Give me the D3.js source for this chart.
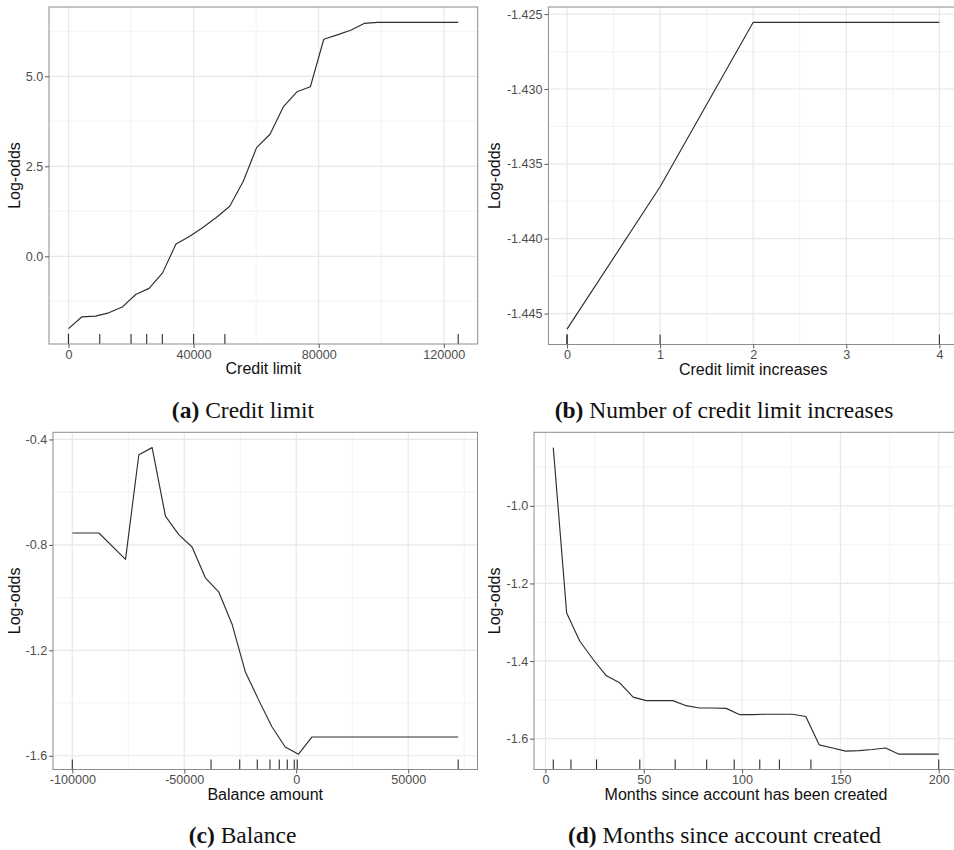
<!DOCTYPE html>
<html>
<head>
<meta charset="utf-8">
<script src="https://cdn.jsdelivr.net/npm/d3@7"></script>
<style>
  html, body { margin: 0; padding: 0; background: #fff; }
  svg { display: block; }
</style>
</head>
<body>
<svg id="fig" width="954" height="850"></svg>
<script>
// ---- (a) Credit limit: partial dependence on log-odds ----
const creditLimitX = [0, 4300, 8590, 12890, 17180, 21480, 25780, 30070, 34370, 38660, 42960, 47260, 51550,
  55850, 60140, 64440, 68740, 73030, 77330, 81620, 85920, 90220, 94510, 98810, 124600];
const creditLimitY = [-2.01, -1.68, -1.66, -1.57, -1.41, -1.06, -0.89, -0.46, 0.34, 0.55, 0.80, 1.08, 1.39,
  2.08, 3.02, 3.39, 4.16, 4.57, 4.71, 6.03, 6.15, 6.28, 6.47, 6.50, 6.50];
const creditLimitRug = [0, 0, 10000, 20000, 25000, 30000, 40000, 50000, 124600];
const creditLimitXTicks = [0, 40000, 80000, 120000];
const creditLimitXMinor = [20000, 60000, 100000];
const creditLimitYTicks = [0, 2.5, 5.0];
const creditLimitYMinor = [-1.25, 1.25, 3.75, 6.25];

// ---- (b) Number of credit limit increases ----
const increasesX = [0, 1, 2, 3, 4];
const increasesY = [-1.44604, -1.43653, -1.42555, -1.42555, -1.42555];
const increasesRug = [0, 0, 1, 4];
const increasesXTicks = [0, 1, 2, 3, 4];
const increasesXMinor = [0.5, 1.5, 2.5, 3.5];
const increasesYTicks = [-1.445, -1.440, -1.435, -1.430, -1.425];
const increasesYMinor = [-1.4425, -1.4375, -1.4325, -1.4275];

// ---- (c) Balance ----
const balanceX = [-100000, -88116, -76232, -70290, -64348, -58406, -52464, -46522, -40580, -34638,
  -28696, -22754, -16812, -10870, -4928, 1014, 6956, 72318];
const balanceY = [-0.755, -0.755, -0.855, -0.458, -0.431, -0.691, -0.761, -0.808, -0.925, -0.978,
  -1.100, -1.281, -1.388, -1.490, -1.567, -1.594, -1.529, -1.529];
const balanceRug = [-100000, -38050, -25250, -17400, -11730, -7580, -4010, -890, 450, 72318];
const balanceXTicks = [-100000, -50000, 0, 50000];
const balanceXMinor = [-75000, -25000, 25000, 75000];
const balanceYTicks = [-1.6, -1.2, -0.8, -0.4];
const balanceYMinor = [-1.4, -1.0, -0.6];

// ---- (d) Months since account created ----
const monthsX = [4, 10.8, 17.5, 24.3, 31.0, 37.8, 44.6, 51.3, 58.1, 64.8, 71.6, 78.4, 85.1, 91.9, 98.6,
  105.4, 112.2, 118.9, 125.7, 132.4, 139.2, 146.0, 152.7, 159.5, 166.2, 173.0, 179.8, 186.5, 193.3, 200];
const monthsY = [-0.850, -1.276, -1.349, -1.396, -1.438, -1.456, -1.493, -1.502, -1.502, -1.502, -1.515,
  -1.521, -1.521, -1.522, -1.538, -1.538, -1.537, -1.537, -1.537, -1.543, -1.616, -1.624, -1.632, -1.631,
  -1.628, -1.624, -1.640, -1.640, -1.640, -1.640];
const monthsRug = [4, 13, 26, 48, 66, 82, 96, 109, 119, 135, 200];
const monthsXTicks = [0, 50, 100, 150, 200];
const monthsXMinor = [25, 75, 125, 175];
const monthsYTicks = [-1.6, -1.4, -1.2, -1.0];
const monthsYMinor = [-1.5, -1.3, -1.1, -0.9];

// ---- axis titles and sub-captions ----
const xTitles = ["Credit limit", "Credit limit increases", "Balance amount", "Months since account has been created"];
const yTitle = "Log-odds";
const captionTags = ["(a)", "(b)", "(c)", "(d)"];
const captionTexts = ["Credit limit", "Number of credit limit increases", "Balance", "Months since account created"];

// plain hyphen minus, as in the printed axes
const loc = d3.formatLocale({decimal: ".", thousands: "", grouping: [3], currency: ["", ""], minus: "-"});

const panels = [
  {x: creditLimitX, y: creditLimitY, rug: creditLimitRug,
   xt: creditLimitXTicks, xm: creditLimitXMinor, yt: creditLimitYTicks, ym: creditLimitYMinor,
   xf: loc.format("d"), yf: loc.format(".1f"),
   box: {l: 49, t: 7, r: 477.7, b: 344}, yTitleX: 19.5, cap: {x: 243, y: 418}},
  {x: increasesX, y: increasesY, rug: increasesRug,
   xt: increasesXTicks, xm: increasesXMinor, yt: increasesYTicks, ym: increasesYMinor,
   xf: loc.format("d"), yf: loc.format(".3f"),
   box: {l: 548.4, t: 7, r: 958, b: 344.5}, yTitleX: 500, cap: {x: 724, y: 418}},
  {x: balanceX, y: balanceY, rug: balanceRug,
   xt: balanceXTicks, xm: balanceXMinor, yt: balanceYTicks, ym: balanceYMinor,
   xf: loc.format("d"), yf: loc.format(".1f"),
   box: {l: 53, t: 432.3, r: 477.5, b: 769.5}, yTitleX: 19.5, cap: {x: 242.5, y: 842.5}},
  {x: monthsX, y: monthsY, rug: monthsRug,
   xt: monthsXTicks, xm: monthsXMinor, yt: monthsYTicks, ym: monthsYMinor,
   xf: loc.format("d"), yf: loc.format(".1f"),
   box: {l: 534, t: 432.3, r: 958, b: 769.5}, yTitleX: 500, cap: {x: 724.5, y: 842.5}}
];

// ggplot-style 5% expansion of a continuous range
function expand(ext, f) {
  const d = (ext[1] - ext[0]) * f;
  return [ext[0] - d, ext[1] + d];
}

const svg = d3.select("#fig");
const SANS = "'Liberation Sans', Arial, Helvetica, sans-serif";
const SERIF = "'Liberation Serif', 'Times New Roman', Times, serif";

panels.forEach((p, i) => {
  const {l, t, r, b} = p.box;
  const xs = d3.scaleLinear().domain(expand(d3.extent(p.x), 0.05)).range([l, r]);
  const ys = d3.scaleLinear().domain(expand(d3.extent(p.y), 0.05)).range([b, t]);
  const g = svg.append("g");

  const clipId = "clip" + i;
  g.append("clipPath").attr("id", clipId)
    .append("rect").attr("x", l).attr("y", t).attr("width", r - l).attr("height", b - t);
  const inner = g.append("g").attr("clip-path", `url(#${clipId})`);

  // minor grid
  inner.selectAll(".xm").data(p.xm).join("line")
    .attr("x1", d => xs(d)).attr("x2", d => xs(d)).attr("y1", t).attr("y2", b)
    .attr("stroke", "#f0f0f0").attr("stroke-width", 0.8);
  inner.selectAll(".ym").data(p.ym).join("line")
    .attr("y1", d => ys(d)).attr("y2", d => ys(d)).attr("x1", l).attr("x2", r)
    .attr("stroke", "#f0f0f0").attr("stroke-width", 0.8);
  // major grid
  inner.selectAll(".xg").data(p.xt).join("line")
    .attr("x1", d => xs(d)).attr("x2", d => xs(d)).attr("y1", t).attr("y2", b)
    .attr("stroke", "#e8e8e8").attr("stroke-width", 1.2);
  inner.selectAll(".yg").data(p.yt).join("line")
    .attr("y1", d => ys(d)).attr("y2", d => ys(d)).attr("x1", l).attr("x2", r)
    .attr("stroke", "#e8e8e8").attr("stroke-width", 1.2);

  // partial dependence curve
  const pts = p.x.map((v, k) => [v, p.y[k]]);
  inner.append("path").datum(pts)
    .attr("d", d3.line().x(d => xs(d[0])).y(d => ys(d[1])))
    .attr("fill", "none").attr("stroke", "#2e2e2e").attr("stroke-width", 1.15)
    .attr("stroke-linejoin", "round");

  // rug of decile positions along the bottom
  const rugLen = (b - t) * 0.03;
  inner.selectAll(".rug").data(p.rug).join("line")
    .attr("x1", d => xs(d)).attr("x2", d => xs(d)).attr("y1", b).attr("y2", b - rugLen)
    .attr("stroke", "#2e2e2e").attr("stroke-width", 1.1);

  // panel border
  g.append("rect").attr("x", l).attr("y", t).attr("width", r - l).attr("height", b - t)
    .attr("fill", "none").attr("stroke", "#8c8c8c").attr("stroke-width", 1);

  // axes
  const xa = g.append("g").attr("transform", `translate(0,${b})`)
    .call(d3.axisBottom(xs).tickValues(p.xt).tickFormat(p.xf).tickSize(4).tickPadding(1.6));
  const ya = g.append("g").attr("transform", `translate(${l},0)`)
    .call(d3.axisLeft(ys).tickValues(p.yt).tickFormat(p.yf).tickSize(4).tickPadding(1.8));
  [xa, ya].forEach(a => {
    a.select(".domain").remove();
    a.selectAll(".tick line").attr("stroke", "#5a5a5a").attr("stroke-width", 1);
    a.selectAll(".tick text").attr("fill", "#4d4d4d")
      .style("font-family", SANS).style("font-size", "12.6px");
  });

  // axis titles
  g.append("text").attr("x", (l + r) / 2).attr("y", b + 30.3)
    .attr("text-anchor", "middle").style("font-family", SANS).style("font-size", "16px")
    .attr("fill", "#111").text(xTitles[i]);
  g.append("text").attr("transform", `translate(${p.yTitleX},${(t + b) / 2}) rotate(-90)`)
    .attr("text-anchor", "middle").style("font-family", SANS).style("font-size", "16px")
    .attr("fill", "#111").text(yTitle);

  // sub-caption
  const cap = g.append("text").attr("x", p.cap.x).attr("y", p.cap.y).attr("text-anchor", "middle")
    .style("font-family", SERIF).style("font-size", "23.5px").attr("fill", "#111");
  cap.append("tspan").style("font-weight", "bold").text(captionTags[i]);
  cap.append("tspan").text(" " + captionTexts[i]);
});
</script>
</body>
</html>
